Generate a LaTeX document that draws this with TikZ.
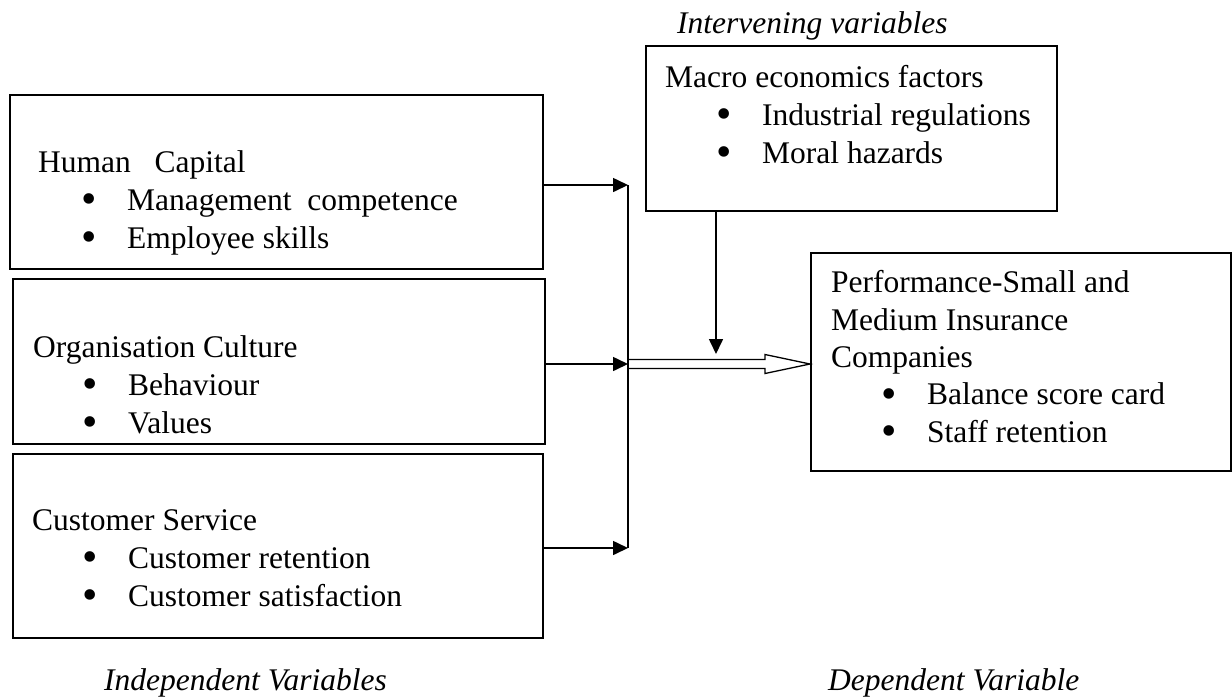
\documentclass[tikz,border=0pt]{standalone}
\usepackage{fontspec}
\setmainfont{Liberation Serif}
\usetikzlibrary{arrows.meta,calc}
\newcommand{\mybul}[1]{\hspace*{#1}\makebox[46pt][l]{\smash{$\vcenter{\hbox{\fontsize{44}{44}\selectfont •}}$}}}
\begin{document}
\begin{tikzpicture}[x=1pt,y=-1pt,
  box/.style={draw, line width=1.6pt, inner sep=0pt, anchor=north west},
  txt/.style={anchor=base west, inner sep=0pt, align=left, font=\fontsize{31.5}{38}\selectfont},
  ital/.style={anchor=base west, inner sep=0pt, font=\fontsize{31.5}{38}\selectfont\itshape},
  conn/.style={line width=1.6pt},
  arr/.style={line width=1.6pt, -{Triangle[length=15pt,width=14pt]}}]
\useasboundingbox (0,0) rectangle (1232,697);
% boxes
\node[box, minimum width=533pt, minimum height=174pt] (hc) at (9,94) {};
\node[box, minimum width=532pt, minimum height=165pt] (oc) at (12,278) {};
\node[box, minimum width=530pt, minimum height=184pt] (cs) at (12,453) {};
\node[box, minimum width=411pt, minimum height=165pt] (mac) at (645,45) {};
\node[box, minimum width=420pt, minimum height=218pt] (perf) at (810,252) {};
% box texts (anchored at the baseline of their last line)
\node[txt] (hct) at (38,248) {Human\ \ \ Capital\\
  \mybul{43pt}Management\ \ competence\\
  \mybul{43pt}Employee skills};
\node[txt] (oct) at (33,433) {Organisation Culture\\
  \mybul{49pt}Behaviour\\
  \mybul{49pt}Values};
\node[txt] (cst) at (32,606) {Customer Service\\
  \mybul{50pt}Customer retention\\
  \mybul{50pt}Customer satisfaction};
\node[txt] (mact) at (665,163) {Macro economics factors\\
  \mybul{51pt}Industrial regulations\\
  \mybul{51pt}Moral hazards};
\node[txt, font=\fontsize{31.5}{37.3}\selectfont] (pt) at (831,442) {Performance-Small and\\
  Medium Insurance\\
  Companies\\
  \mybul{50pt}Balance score card\\
  \mybul{50pt}Staff retention};
% labels
\node[ital] (intv) at (677,33) {Intervening variables};
\node[ital] (indep) at (104,690) {Independent Variables};
\node[ital] (dep) at (828,690) {Dependent Variable};
% connectors
\coordinate (t1) at (628,185);
\coordinate (t2) at (628,364);
\coordinate (t3) at (628,548);
\coordinate (d) at (716,354);
\coordinate (hb) at (765,0);
\draw[conn] (t1) -- (t3);
\draw[arr] (hc.east |- t1) -- (t1);
\draw[arr] (oc.east |- t2) -- (t2);
\draw[arr] (cs.east |- t3) -- (t3);
\draw[arr] (mac.south -| d) -- (d);
\draw[line width=1.3pt, line join=miter]
  ($(t2)+(0,-4.5)$) -- ($(hb |- t2)+(0,-4.5)$) -- ($(hb |- t2)+(0,-9.5)$)
  -- (perf.west |- t2) -- ($(hb |- t2)+(0,9.5)$) -- ($(hb |- t2)+(0,4.5)$)
  -- ($(t2)+(0,4.5)$);
\end{tikzpicture}
\end{document}
